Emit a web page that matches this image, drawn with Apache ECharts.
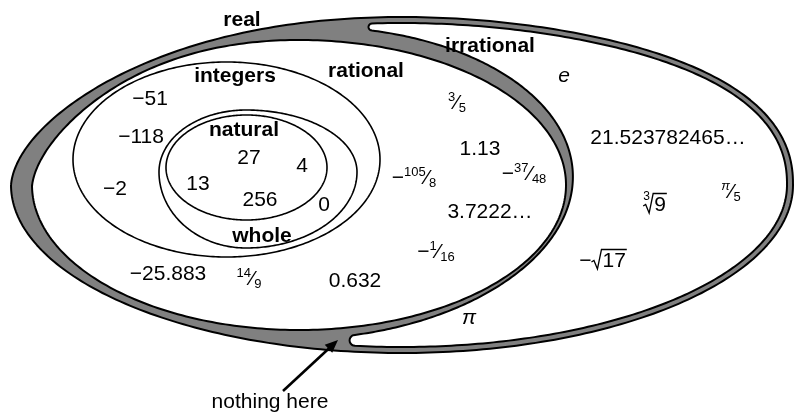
<!DOCTYPE html>
<html>
<head>
<meta charset="utf-8">
<script src="https://cdn.jsdelivr.net/npm/echarts@6/dist/echarts.min.js"></script>
<style>html,body{margin:0;padding:0;background:#fff}#c{width:794px;height:413px}</style>
</head>
<body>
<div id="c"></div>
<script>
// ---------------- data ----------------
// set names (categories) and where their names are written (diagram units)
const setNames   = ['real', 'rational', 'irrational', 'integers', 'natural', 'whole'];
const setNamePos = [[242, 20], [366, 71], [490, 46], [235, 76], [244, 130], [262, 236]];

// members of each set (texts) and their places in the diagram
const naturalMembers  = ['27', '4', '13', '256'];
const naturalPos      = [[249, 158], [302, 166], [198, 184], [260, 200]];
const wholeMembers    = ['0'];
const wholePos        = [[324, 205]];
const integerMembers  = ['−51', '−118', '−2'];
const integerPos      = [[150, 99], [141, 137], [115, 189]];
const rationalMembers = ['−25.883', '14⁄9', '0.632', '3⁄5', '1.13', '−105⁄8', '−37⁄48', '3.7222…', '−1⁄16'];
const rationalPos     = [[168, 274], [249, 279], [355, 281], [457, 103], [480, 149], [414, 178], [524, 174], [490, 212], [436, 252]];
const irrationalMembers = ['e', '21.523782465…', 'π⁄5', '∛9', '−√17', 'π'];
const irrationalPos     = [[564, 76], [668, 138], [731, 192], [655, 205], [603, 261], [469, 318]];

// region outlines: [cx, cy, rxLeft, rxRight, ryTop, ryBottom, rotationDeg, skewLeft, skewRight]
const realShape       = [402, 185, 391, 391, 168, 168, 0, 20, 18];
const rationalShape   = [299, 185, 267, 267, 145, 145, 0, 26, 0];
const irrationalInner = [303, 183, 270, 270, 156, 156, -2, 0, 0];
const irrationalInset = 6;            // gap between real border and irrational border
const irrationalTipX  = [372, 355];   // x of upper and lower tips of the irrational region
const integerShape    = [226.5, 159.5, 153.5, 153.5, 97.5, 97.5, 0, 0, 0];
const wholeShape      = [246, 172, 87, 111, 62, 76, 0, 0, 0];
const naturalShape    = [246.5, 167.5, 80.5, 80.5, 52.5, 52.5, 0, 0, 0];

// annotation
const noteText = 'nothing here';
const notePos  = [270, 402];
const arrowTail = [283, 391];
const arrowHead = [338, 340];

// ---------------- helpers ----------------
const FONT = "'Liberation Sans', Arial, Helvetica, sans-serif";
const FS = 21;
const GRAY = '#808080';

function shapePoint(p, t, inset) {
  inset = inset || 0;
  const [cx, cy, rxL, rxR, ryT, ryB, rot, kL, kR] = p;
  const c = Math.cos(t), s = Math.sin(t);
  let x = ((c < 0 ? rxL : rxR) - inset) * c;
  let y = ((s < 0 ? ryT : ryB) - inset) * s;
  if (s < 0) y += (c < 0 ? kL : -kR) * Math.pow(Math.abs(c), 3) * Math.sqrt(-s);
  const r = rot * Math.PI / 180;
  return [cx + x * Math.cos(r) - y * Math.sin(r), cy + x * Math.sin(r) + y * Math.cos(r)];
}
function sample(f, t0, t1, n) {
  const out = [];
  for (let i = 0; i <= n; i++) out.push(f(t0 + (t1 - t0) * i / n));
  return out;
}
function solveT(f, target, lo, hi) {
  let flo = f(lo)[0] - target;
  for (let i = 0; i < 60; i++) {
    const mid = (lo + hi) / 2, fm = f(mid)[0] - target;
    if ((fm < 0) === (flo < 0)) { lo = mid; flo = fm; } else hi = mid;
  }
  return (lo + hi) / 2;
}
function cap(A, B, n) {
  const M = [(A[0] + B[0]) / 2, (A[1] + B[1]) / 2];
  const r = Math.hypot(A[0] - B[0], A[1] - B[1]) / 2;
  const a0 = Math.atan2(A[1] - M[1], A[0] - M[0]);
  const out = [];
  for (let i = 1; i < n; i++) {
    const a = a0 + Math.PI * i / n;
    out.push([M[0] + r * Math.cos(a), M[1] + r * Math.sin(a)]);
  }
  return out;
}
function irrationalOutline() {
  const outer = t => shapePoint(realShape, t, irrationalInset);
  const inner = t => shapePoint(irrationalInner, t, 0);
  const tTopO = solveT(outer, irrationalTipX[0], -Math.PI + 0.05, -0.05);
  const tBotO = solveT(outer, irrationalTipX[1], 0.05, Math.PI - 0.05);
  const tTopI = solveT(inner, irrationalTipX[0], -Math.PI + 0.05, -0.05);
  const tBotI = solveT(inner, irrationalTipX[1], 0.05, Math.PI - 0.05);
  const o = sample(outer, tTopO, tBotO, 240);
  const i = sample(inner, tBotI, tTopI, 240);
  return [].concat(o, cap(o[o.length - 1], i[0], 10), i, cap(i[i.length - 1], o[0], 10));
}

const shapeOrder = [
  {def: realShape,     fill: GRAY,   lw: 2},
  {def: rationalShape, fill: '#fff', lw: 2},
  {def: null,          fill: '#fff', lw: 2},   // irrational
  {def: integerShape,  fill: 'none', lw: 1.6},
  {def: wholeShape,    fill: 'none', lw: 1.6},
  {def: naturalShape,  fill: 'none', lw: 1.6}
];

function toRich(s) {
  let out = '';
  if (s.indexOf('⁄') >= 0) {
    let body = s;
    if (body[0] === '−') { out += '{m|−}'; body = body.slice(1); }
    const [num, den] = body.split('⁄');
    out += (num === 'π' ? '{ni|π}' : '{n|' + num + '}') + '{s|⁄}{d|' + den + '}';
    return out;
  }
  if (s === 'e' || s === 'π') return '{i|' + s + '}';
  return '{m|' + s + '}';
}
const rich = {
  m:  {fontSize: FS, fontFamily: FONT, color: '#000'},
  i:  {fontSize: FS, fontFamily: FONT, fontStyle: 'italic', color: '#000'},
  n:  {fontSize: 13, fontFamily: FONT, color: '#000', verticalAlign: 'top', lineHeight: 13},
  ni: {fontSize: 13, fontFamily: FONT, fontStyle: 'italic', color: '#000', verticalAlign: 'top', lineHeight: 13},
  s:  {fontSize: FS, fontFamily: FONT, color: '#000', lineHeight: 24},
  d:  {fontSize: 13, fontFamily: FONT, color: '#000', verticalAlign: 'bottom', lineHeight: 13}
};

// members
const memberTexts = [].concat(naturalMembers, wholeMembers, integerMembers, rationalMembers, irrationalMembers);
const memberPos   = [].concat(naturalPos, wholePos, integerPos, rationalPos, irrationalPos);
const isRadical = s => s.indexOf('√') >= 0 || s.indexOf('∛') >= 0;
const plainItems = [], radicalItems = [];
memberTexts.forEach((s, k) => {
  if (isRadical(s)) radicalItems.push({name: s, value: memberPos[k]});
  else plainItems.push({name: s, value: memberPos[k]});
});

const measureCtx = document.createElement('canvas').getContext('2d');
function textW(s, size, style) {
  measureCtx.font = (style || '') + ' ' + size + 'px ' + FONT;
  return measureCtx.measureText(s).width;
}

function renderRadical(params, api) {
  const s = radicalItems[params.dataIndex].name;
  const p = api.coord(radicalItems[params.dataIndex].value);
  let prefix = '', index = '', radicand;
  let body = s;
  if (body[0] === '−') { prefix = '−'; body = body.slice(1); }
  if (body[0] === '∛') { index = '3'; }
  radicand = body.slice(1);
  const wPre = prefix ? textW(prefix, FS) : 0;
  const wRad = 11;
  const wBody = textW(radicand, FS);
  const total = wPre + wRad + wBody + 1;
  let x = p[0] - total / 2;
  const cy = p[1];
  const top = cy - 11.5, bottom = cy + 8, mid = cy + 1;
  const children = [];
  if (prefix) {
    children.push({type: 'text', style: {text: prefix, x: x, y: cy, font: FS + 'px ' + FONT, fill: '#000', textAlign: 'left', textVerticalAlign: 'middle'}});
    x += wPre;
  }
  const rx = x;
  children.push({type: 'polyline', shape: {points: [[rx, mid], [rx + 2.5, mid - 1.5], [rx + 6, bottom], [rx + 10, top], [rx + wRad + wBody + 1, top]]},
    style: {stroke: '#000', lineWidth: 1.3, fill: null, lineJoin: 'miter'}});
  if (index) {
    children.push({type: 'text', style: {text: index, x: rx + 3.5, y: top + 3.5, font: '12px ' + FONT, fill: '#000', textAlign: 'center', textVerticalAlign: 'middle'}});
  }
  children.push({type: 'text', style: {text: radicand, x: rx + wRad, y: cy, font: FS + 'px ' + FONT, fill: '#000', textAlign: 'left', textVerticalAlign: 'middle'}});
  return {type: 'group', children: children};
}

function renderShape(params, api) {
  const sp = shapeOrder[params.dataIndex];
  let pts;
  if (sp.def) pts = sample(t => shapePoint(sp.def, t, 0), -Math.PI, Math.PI, 360);
  else pts = irrationalOutline();
  return {
    type: 'polygon',
    shape: {points: pts.map(q => api.coord(q))},
    style: {fill: sp.fill, stroke: '#000', lineWidth: sp.lw, lineJoin: 'round'},
    z2: params.dataIndex
  };
}

function renderArrow(params, api) {
  const a = api.coord(arrowTail), b = api.coord(arrowHead);
  const dx = b[0] - a[0], dy = b[1] - a[1], L = Math.hypot(dx, dy);
  const ux = dx / L, uy = dy / L;
  const hl = 13, hw = 5.5;
  const base = [b[0] - ux * hl, b[1] - uy * hl];
  return {type: 'group', children: [
    {type: 'line', shape: {x1: a[0], y1: a[1], x2: base[0] + ux * 2, y2: base[1] + uy * 2}, style: {stroke: '#000', lineWidth: 2.6}},
    {type: 'polygon', shape: {points: [b, [base[0] - uy * hw, base[1] + ux * hw], [base[0] + uy * hw, base[1] - ux * hw]]}, style: {fill: '#000'}}
  ]};
}

const labelCommon = {show: true, position: 'inside', fontSize: FS, fontFamily: FONT, color: '#000', opacity: 1, textBorderWidth: 0};
const chart = echarts.init(document.getElementById('c'), null, {renderer: 'canvas', width: 794, height: 413});
chart.setOption({
  animation: false,
  backgroundColor: '#fff',
  grid: {left: 0, right: 0, top: 0, bottom: 0},
  xAxis: {type: 'value', min: 0, max: 794, show: false},
  yAxis: {type: 'value', min: 0, max: 413, inverse: true, show: false},
  series: [
    {type: 'custom', name: 'regions', renderItem: renderShape, data: shapeOrder.map((s, k) => [k]), clip: false, silent: true, z: 1},
    {type: 'custom', name: 'arrow', renderItem: renderArrow, data: [[0]], clip: false, silent: true, z: 3},
    {type: 'scatter', name: 'sets', symbolSize: 0, silent: true, z: 5, itemStyle: {opacity: 1},
      data: setNames.map((n, k) => ({name: n, value: setNamePos[k]})),
      label: Object.assign({}, labelCommon, {formatter: p => p.name, fontWeight: 'bold'})},
    {type: 'scatter', name: 'members', symbolSize: 0, silent: true, z: 5, itemStyle: {opacity: 1},
      data: plainItems,
      label: Object.assign({}, labelCommon, {formatter: p => toRich(p.name), rich: rich})},
    {type: 'custom', name: 'radicals', renderItem: renderRadical, data: radicalItems.map(d => d.value), clip: false, silent: true, z: 5},
    {type: 'scatter', name: 'note', symbolSize: 0, silent: true, z: 5, itemStyle: {opacity: 1},
      data: [{name: noteText, value: notePos}],
      label: Object.assign({}, labelCommon, {formatter: p => p.name})}
  ]
});
</script>
</body>
</html>
